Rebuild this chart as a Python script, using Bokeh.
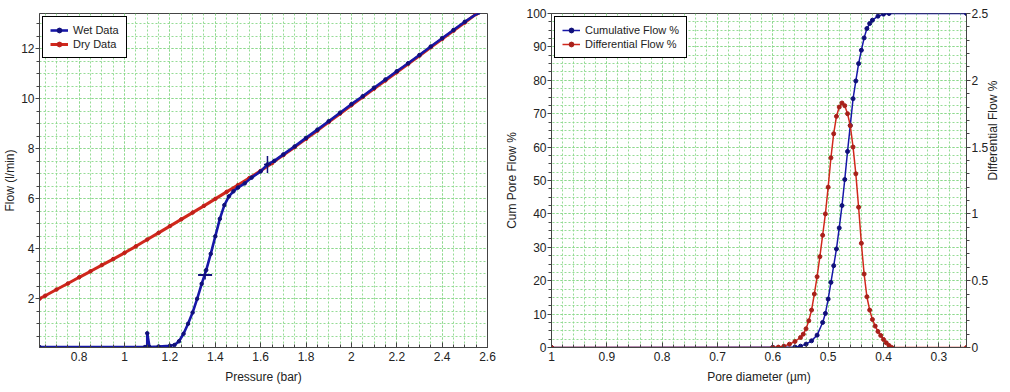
import math
from bokeh.plotting import figure
from bokeh.models import (Range1d, LinearAxis, SingleIntervalTicker,
                          CustomJSTickFormatter, Legend, LegendItem)
from bokeh.layouts import row
from bokeh.embed import file_html
from bokeh.resources import INLINE

# ---------------- Left chart data: Flow vs Pressure ----------------
wet_pressure = [0.625, 1.09, 1.10, 1.10, 1.11, 1.15, 1.20, 1.22,
                1.24, 1.26, 1.28, 1.30, 1.32, 1.34, 1.36, 1.38, 1.40, 1.42, 1.44, 1.46,
                1.48, 1.50, 1.53, 1.56, 1.60, 1.63, 1.66, 1.70, 1.75, 1.80, 1.85, 1.90,
                1.95, 2.00, 2.05, 2.10, 2.15, 2.20, 2.25, 2.30, 2.35, 2.40, 2.45, 2.50, 2.56]
wet_flow = [0.07, 0.07, 0.07, 0.62, 0.07, 0.09, 0.12, 0.15,
            0.30, 0.60, 1.00, 1.45, 2.00, 2.60, 3.15, 3.80, 4.50, 5.20, 5.75, 6.10,
            6.30, 6.45, 6.62, 6.85, 7.10, 7.38, 7.52, 7.78, 8.10, 8.44, 8.77, 9.11,
            9.45, 9.79, 10.11, 10.45, 10.78, 11.11, 11.43, 11.76, 12.10, 12.43, 12.76, 13.09, 13.45]

dry_pressure = [0.625, 0.65, 0.70, 0.75, 0.80, 0.85, 0.90, 0.95, 1.00, 1.05, 1.10, 1.15,
                1.20, 1.25, 1.30, 1.35, 1.40, 1.45, 1.50, 1.55, 1.60, 1.65, 1.70, 1.75,
                1.80, 1.85, 1.90, 1.95, 2.00, 2.05, 2.10, 2.15, 2.20, 2.25, 2.30, 2.35,
                2.40, 2.45, 2.50, 2.55]
dry_flow = [2.00, 2.12, 2.37, 2.61, 2.86, 3.10, 3.35, 3.59, 3.84, 4.10, 4.37, 4.64,
            4.91, 5.18, 5.45, 5.72, 6.00, 6.28, 6.55, 6.83, 7.12, 7.43, 7.75, 8.07,
            8.40, 8.73, 9.07, 9.41, 9.75, 10.08, 10.41, 10.74, 11.07, 11.40, 11.73, 12.07,
            12.40, 12.73, 13.06, 13.40]

# bubble point / mean flow pore markers on the wet curve
mark_pressure = [1.355, 1.63]
mark_flow = [2.95, 7.38]

# ---------------- Right chart data: pore size distribution ----------------
cum_diameter = [1.0, 0.60, 0.58, 0.56, 0.55, 0.54, 0.53, 0.52,
                0.51, 0.505, 0.50, 0.495, 0.49, 0.485, 0.48, 0.475, 0.47, 0.465, 0.46,
                0.455, 0.45, 0.445, 0.44, 0.435, 0.43, 0.425, 0.42, 0.41, 0.40, 0.39,
                0.25]
cum_flow = [0.0, 0.05, 0.08, 0.15, 0.4, 1.0, 2.0, 3.7,
            7.5, 10.2, 14.5, 19.5, 24.5, 29.5, 35.8, 42.5, 50.3, 58.7, 66.5,
            74.5, 79.8, 85.0, 89.0, 92.7, 95.5, 97.0, 98.0, 99.2, 99.8, 100.0,
            100.0]

diff_diameter = [1.0, 0.60, 0.59, 0.58, 0.57, 0.56, 0.55, 0.545, 0.54,
                 0.535, 0.53, 0.525, 0.52, 0.515, 0.51, 0.505, 0.50, 0.495, 0.49,
                 0.485, 0.48, 0.475, 0.47, 0.465, 0.46, 0.455, 0.45, 0.445, 0.44,
                 0.435, 0.43, 0.425, 0.42, 0.415, 0.41, 0.405, 0.40, 0.395, 0.39,
                 0.385, 0.25]
diff_flow = [0.0, 0.0, 0.003, 0.01, 0.025, 0.045, 0.075, 0.10, 0.14,
             0.20, 0.28, 0.40, 0.53, 0.68, 0.84, 1.00, 1.20, 1.42, 1.60,
             1.73, 1.80, 1.83, 1.81, 1.75, 1.66, 1.50, 1.30, 1.05, 0.78,
             0.55, 0.38, 0.28, 0.21, 0.16, 0.12, 0.09, 0.06, 0.035, 0.015,
             0.0, 0.0]

# ---------------- styling helpers ----------------
FONT = "Liberation Sans"
GRID = "#8ad88a"
BLUE = "#1717a8"
NAVY = "#10107a"
RED = "#d0281c"
fmt_code = "return String(parseFloat(tick.toFixed(3)));"


def style_axis(ax, side):
    ax.formatter = CustomJSTickFormatter(code=fmt_code)
    ax.major_label_text_font = FONT
    ax.major_label_text_font_size = "12px"
    ax.major_label_text_color = "#222222"
    ax.axis_label_text_font = FONT
    ax.axis_label_text_font_size = "12px"
    ax.axis_label_text_font_style = "normal"
    ax.axis_label_text_color = "#222222"
    ax.axis_line_color = "#444444"
    ax.major_tick_line_color = "#444444"
    ax.minor_tick_line_color = "#444444"
    if side == "x":
        ax.major_tick_in = 5
        ax.major_tick_out = 0
        ax.minor_tick_in = 3
        ax.minor_tick_out = 0
        ax.major_label_standoff = 4
        ax.axis_label_standoff = 6
    else:
        ax.major_tick_in = 0
        ax.major_tick_out = 4
        ax.minor_tick_in = 0
        ax.minor_tick_out = 3
        ax.major_label_standoff = 1
        ax.axis_label_standoff = 1


def style_grid(p):
    for g in (p.xgrid[0], p.ygrid[0]):
        g.grid_line_color = GRID
        g.grid_line_dash = "2 2"
        g.grid_line_alpha = 0.9
        g.minor_grid_line_color = GRID
        g.minor_grid_line_dash = "2 2"
        g.minor_grid_line_alpha = 0.9


def style_legend(leg):
    leg.location = "top_left"
    leg.border_line_color = "black"
    leg.border_line_width = 1
    leg.border_line_alpha = 1
    leg.label_text_font = FONT
    leg.label_text_font_size = "11px"
    leg.label_text_color = "#222222"
    leg.glyph_width = 18
    leg.glyph_height = 12
    leg.label_height = 12
    leg.spacing = 2
    leg.padding = 7
    leg.margin = 3
    leg.background_fill_alpha = 1


# ---------------- Left figure ----------------
p1 = figure(width=500, height=388, output_backend="svg", toolbar_location=None,
            x_range=Range1d(0.625, 2.6), y_range=Range1d(0.05, 13.42),
            min_border_left=37, min_border_right=13, min_border_top=13, min_border_bottom=41)
p1.outline_line_color = "#444444"
p1.xaxis.ticker = SingleIntervalTicker(interval=0.2, num_minor_ticks=4)
p1.yaxis.ticker = SingleIntervalTicker(interval=2, num_minor_ticks=4)
p1.xgrid.ticker = p1.xaxis.ticker
p1.ygrid.ticker = p1.yaxis.ticker
p1.xaxis.axis_label = "Pressure (bar)"
p1.yaxis.axis_label = "Flow (l/min)"
style_axis(p1.xaxis[0], "x")
style_axis(p1.yaxis[0], "y")
style_grid(p1)

dry_line = p1.line(dry_pressure, dry_flow, line_color=RED, line_width=3)
dry_pts = p1.scatter(dry_pressure, dry_flow, size=3.5, color="#c0201a")
wet_line = p1.line(wet_pressure, wet_flow, line_color=BLUE, line_width=2.6)
wet_pts = p1.scatter(wet_pressure, wet_flow, size=3.5, color=NAVY)
p1.scatter(mark_pressure[:1], mark_flow[:1], marker="dash", size=14, line_color=NAVY, line_width=2)
p1.scatter(mark_pressure[:1], mark_flow[:1], marker="dash", size=9, angle=math.pi / 2,
           line_color=NAVY, line_width=1.5)
p1.scatter(mark_pressure[1:], mark_flow[1:], marker="dash", size=17, angle=math.pi / 2,
           line_color=NAVY, line_width=1.5)
p1.scatter(mark_pressure[1:], mark_flow[1:], marker="dash", size=7, line_color=NAVY, line_width=1.5)

leg1 = Legend(items=[LegendItem(label="Wet Data", renderers=[wet_line, wet_pts]),
                     LegendItem(label="Dry Data", renderers=[dry_line, dry_pts])])
p1.add_layout(leg1)
style_legend(leg1)

# ---------------- Right figure ----------------
p2 = figure(width=510, height=388, output_backend="svg", toolbar_location=None,
            x_range=Range1d(1.0, 0.25), y_range=Range1d(0, 100),
            min_border_left=51, min_border_right=40, min_border_top=11, min_border_bottom=39)
p2.outline_line_color = "#444444"
p2.extra_y_ranges = {"diff": Range1d(0, 2.5)}
p2.xaxis.ticker = SingleIntervalTicker(interval=0.1, num_minor_ticks=5)
p2.yaxis.ticker = SingleIntervalTicker(interval=10, num_minor_ticks=4)
p2.xgrid.ticker = p2.xaxis.ticker
p2.ygrid.ticker = p2.yaxis.ticker
p2.xaxis.axis_label = "Pore diameter (µm)"
p2.yaxis.axis_label = "Cum Pore Flow %"
style_axis(p2.xaxis[0], "x")
style_axis(p2.yaxis[0], "y")
p2.yaxis[0].axis_label_standoff = 4
style_grid(p2)

rax = LinearAxis(y_range_name="diff", axis_label="Differential Flow %",
                 ticker=SingleIntervalTicker(interval=0.5, num_minor_ticks=5))
style_axis(rax, "y")
rax.axis_label_standoff = 2
try:
    rax.axis_label_orientation = math.pi / 2
except Exception:
    pass
p2.add_layout(rax, "right")

cum_line = p2.line(cum_diameter, cum_flow, line_color=BLUE, line_width=1.5)
cum_pts = p2.scatter(cum_diameter, cum_flow, size=4, color=NAVY)
diff_line = p2.line(diff_diameter, diff_flow, line_color=RED, line_width=1.5, y_range_name="diff")
diff_pts = p2.scatter(diff_diameter, diff_flow, size=4, color="#a8201a", y_range_name="diff")

leg2 = Legend(items=[LegendItem(label="Cumulative Flow %", renderers=[cum_line, cum_pts]),
                     LegendItem(label="Differential Flow %", renderers=[diff_line, diff_pts])])
p2.add_layout(leg2)
style_legend(leg2)

layout = row(p1, p2)
open("out.html", "w").write(file_html(layout, INLINE))
